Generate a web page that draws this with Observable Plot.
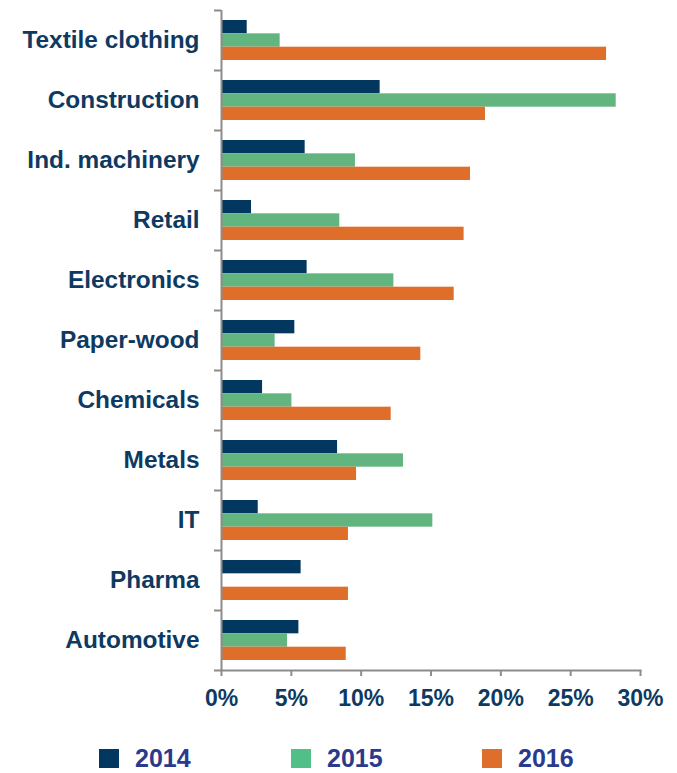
<!DOCTYPE html>
<html>
<head>
<meta charset="utf-8">
<script src="https://cdn.jsdelivr.net/npm/d3@7"></script>
<script src="https://cdn.jsdelivr.net/npm/@observablehq/plot@0.6"></script>
<style>
  html, body { margin: 0; padding: 0; background: #fff; }
  #chart { width: 677px; }
  .legend { position: relative; height: 53px; font-family: "Liberation Sans", Arial, sans-serif; }
  .item { position: absolute; top: 29px; display: flex; align-items: center; }
  .sw { width: 20px; height: 19px; margin-right: 16px; }
  .lbl { font-size: 25px; font-weight: bold; color: #2b3a8c; line-height: 19px; }
</style>
</head>
<body>
<div id="chart"></div>
<script>
const sectors = ["Textile clothing", "Construction", "Ind. machinery", "Retail", "Electronics",
  "Paper-wood", "Chemicals", "Metals", "IT", "Pharma", "Automotive"];
const years = ["2014", "2015", "2016"];
const v2014 = [1.84, 11.36, 5.99, 2.15, 6.13, 5.25, 2.94, 8.31, 2.63, 5.70, 5.54];
const v2015 = [4.20, 28.26, 9.59, 8.47, 12.34, 3.84, 5.04, 13.03, 15.13, 0, 4.73];
const v2016 = [27.57, 18.90, 17.83, 17.37, 16.66, 14.27, 12.15, 9.67, 9.09, 9.09, 8.93];
const xTicks = [0, 5, 10, 15, 20, 25, 30];
const colors = ["#02375f", "#62b57f", "#e06e2b"];
const legendColors = ["#02375f", "#52be88", "#e06e2b"];

const series = [v2014, v2015, v2016];
const rows = years.map((yr, i) => sectors.map((s, j) => ({sector: s, year: yr, value: series[i][j]})));

const textColor = "#0e3a62";
const axisGray = "#8c8c8c";
const font = "Liberation Sans, Arial, sans-serif";

// bar placement inside each 60px band: three 13.33px bars with 10px padding
const insets = [[10, 36.67], [23.33, 23.33], [36.67, 10]];

const chart = Plot.plot({
  width: 677,
  height: 720,
  marginTop: 10,
  marginBottom: 50,
  marginLeft: 221,
  marginRight: 37,
  style: {fontFamily: font, background: "#fff"},
  x: {domain: [0, 30]},
  y: {domain: sectors, padding: 0},
  marks: [
    ...rows.map((data, i) => Plot.barX(data, {
      x: "value", y: "sector", fill: colors[i],
      insetTop: insets[i][0], insetBottom: insets[i][1]
    })),
    Plot.ruleX([0], {stroke: axisGray, strokeWidth: 2}),
    Plot.ruleY(sectors, {y: d => d, x1: 0, x2: -0.5, dy: -30, stroke: axisGray, strokeWidth: 2}),
    Plot.ruleY([sectors[sectors.length - 1]], {y: d => d, x1: 0, x2: -0.5, dy: 30, stroke: axisGray, strokeWidth: 2}),
    Plot.frame({anchor: "bottom", stroke: axisGray, strokeWidth: 2}),
    Plot.axisX({
      ticks: xTicks, tickFormat: d => d + "%", tickSize: 6, tickPadding: 13,
      stroke: axisGray, strokeWidth: 2, fill: textColor, fontSize: 23, fontWeight: "bold", label: null
    }),
    Plot.axisY({
      tickSize: 0, tickPadding: 22, fill: textColor, fontSize: 24.4, fontWeight: "bold", label: null
    })
  ]
});

document.getElementById("chart").appendChild(chart);

const legend = document.createElement("div");
legend.className = "legend";
const lefts = [99, 291, 482];
years.forEach((yr, i) => {
  const it = document.createElement("div");
  it.className = "item";
  it.style.left = lefts[i] + "px";
  const sw = document.createElement("div");
  sw.className = "sw";
  sw.style.background = legendColors[i];
  const lb = document.createElement("span");
  lb.className = "lbl";
  lb.textContent = yr;
  it.appendChild(sw);
  it.appendChild(lb);
  legend.appendChild(it);
});
document.getElementById("chart").appendChild(legend);
</script>
</body>
</html>
